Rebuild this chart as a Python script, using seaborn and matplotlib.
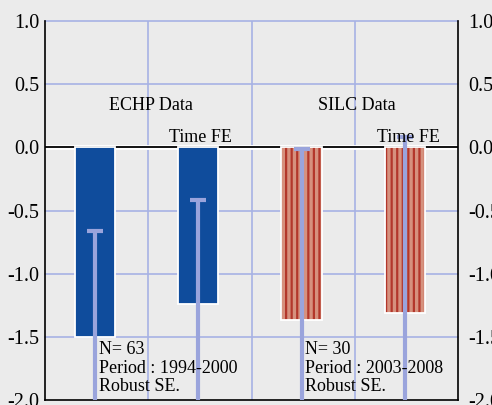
import matplotlib
matplotlib.use("Agg")
import matplotlib.pyplot as plt
import seaborn as sns
from matplotlib.patches import Rectangle

# Data
labels = ["ECHP", "ECHP Time FE", "SILC", "SILC Time FE"]
coefs = [-1.50, -1.24, -1.37, -1.31]
se = [0.835, 0.82, 1.36, 1.39]
bar_colors = ["#0f4c9c", "#0f4c9c", "#d6917e", "#d6917e"]
hatched = [False, False, True, True]

yticks = [-2.0, -1.5, -1.0, -0.5, 0.0, 0.5, 1.0]

BG = "#ebebeb"
GRID = "#a7b2e4"
ERR = "#9aa4dc"
STRIPE = "#b3372b"

sns.set_theme(style="white")
plt.rcParams["font.family"] = ["Liberation Serif", "DejaVu Serif"]
plt.rcParams["hatch.linewidth"] = 1.6
plt.rcParams["text.color"] = "black"

fig = plt.figure(figsize=(4.92, 4.05), dpi=100, facecolor=BG)
ax = fig.add_axes([0.0915, 0.0123, 0.8395, 0.9357], facecolor=BG)

sns.barplot(x=labels, y=coefs, hue=labels, palette=bar_colors, width=0.39,
            saturation=1, legend=False, edgecolor="white", linewidth=0,
            ax=ax, zorder=3)

# stripes on the SILC bars, then white outline on all bars
for p, h in zip(ax.patches, hatched):
    if h:
        p.set_hatch("|||")
        p.set_edgecolor(STRIPE)
    ax.add_patch(Rectangle(p.get_xy(), p.get_width(), p.get_height(),
                           fill=False, edgecolor="white", linewidth=1.3, zorder=4))

ax.errorbar(range(len(coefs)), coefs, yerr=se, fmt="none", ecolor=ERR,
            elinewidth=3, capsize=6, capthick=3, zorder=5)

ax.set_xlim(-0.485, 3.515)
ax.set_ylim(-2.0, 1.0)
ax.set_yticks(yticks)
ax.set_yticklabels([f"{v:.1f}" for v in yticks])
ax.set_xticks([])

for x in [0.515, 1.515, 2.515]:
    ax.axvline(x, color=GRID, lw=1.2, zorder=1)
for y in [-1.5, -1.0, -0.5, 0.5, 1.0]:
    ax.axhline(y, color=GRID, lw=1.2, zorder=1, clip_on=False)
ax.axhline(0.0, color="white", lw=3.5, zorder=2)
ax.axhline(0.0, color="black", lw=1.3, zorder=2)

ax.spines["top"].set_visible(False)
for side in ["left", "right", "bottom"]:
    ax.spines[side].set_color("black")
    ax.spines[side].set_linewidth(1.2)

ax.tick_params(axis="y", length=0, labelsize=14.5, pad=4, colors="black")

# right-hand axis labels, set a bit further out
ax2 = ax.twinx()
ax2.set_ylim(ax.get_ylim())
ax2.set_yticks(yticks)
ax2.set_yticklabels([f"{v:.1f}" for v in yticks])
ax2.tick_params(axis="y", length=0, labelsize=14.5, pad=7.5, colors="black")
for s in ax2.spines.values():
    s.set_visible(False)

ax.text(0.54, 0.33, "ECHP Data", ha="center", va="center", fontsize=13, zorder=6)
ax.text(1.02, 0.08, "Time FE", ha="center", va="center", fontsize=13, zorder=6)
ax.text(2.53, 0.33, "SILC Data", ha="center", va="center", fontsize=13, zorder=6)
ax.text(3.03, 0.08, "Time FE", ha="center", va="center", fontsize=13, zorder=6)

ax.text(0.04, -1.75, "N= 63\nPeriod : 1994-2000\nRobust SE.", ha="left", va="center",
        fontsize=13, linespacing=1.12, zorder=6)
ax.text(2.03, -1.75, "N= 30\nPeriod : 2003-2008\nRobust SE.", ha="left", va="center",
        fontsize=13, linespacing=1.12, zorder=6)

fig.savefig("out.png", dpi=100, facecolor=BG)
